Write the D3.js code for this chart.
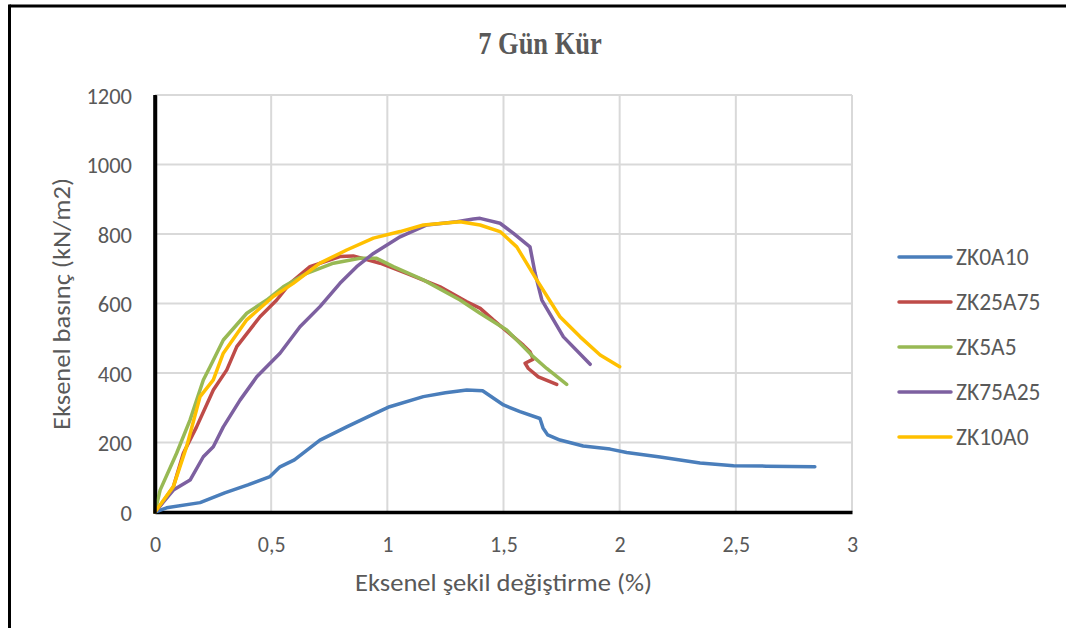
<!DOCTYPE html>
<html>
<head>
<meta charset="utf-8">
<script src="https://cdn.jsdelivr.net/npm/d3@7"></script>
<style>
html,body{margin:0;padding:0;background:#fff;}
svg{display:block;}
</style>
</head>
<body>
<svg id="chart" width="1066" height="628"></svg>
<script>
const seriesNames = ["ZK0A10","ZK25A75","ZK5A5","ZK75A25","ZK10A0"];
const seriesColors = ["#4a7ebb","#be4b48","#98b954","#7d60a0","#ffc000"];

const zk0a10X = [0,0.05,0.194,0.3,0.4,0.495,0.538,0.6,0.71,0.825,0.92,1.01,1.155,1.25,1.342,1.41,1.5,1.571,1.657,1.67,1.69,1.743,1.843,1.959,2.03,2.174,2.346,2.49,2.63,2.84];
const zk0a10Y = [0,12,27,55,78,102,130,150,207,245,275,303,332,343,351,349,308,289,269,242,222,207,190,181,171,158,141,133,132,130];

const zk25a75X = [0,0.03,0.079,0.122,0.179,0.251,0.309,0.352,0.452,0.524,0.581,0.667,0.796,0.853,0.969,1.083,1.227,1.342,1.40,1.456,1.543,1.585,1.614,1.628,1.593,1.607,1.65,1.729];
const zk25a75Y = [0,25,73,169,245,351,409,476,562,610,658,706,735,737,716,687,648,605,586,553,504,480,461,440,428,413,389,367];

const zk5a5X = [0,0.022,0.093,0.151,0.208,0.237,0.294,0.395,0.481,0.552,0.653,0.768,0.882,0.954,1.026,1.155,1.313,1.399,1.514,1.585,1.628,1.686,1.772];
const zk5a5Y = [0,63,169,265,380,418,495,572,610,648,687,716,730,730,706,668,610,572,524,476,447,413,367];

const zk75a25X = [0,0.079,0.151,0.208,0.251,0.294,0.366,0.438,0.538,0.624,0.71,0.796,0.868,0.94,1.055,1.17,1.299,1.37,1.399,1.485,1.543,1.614,1.636,1.665,1.758,1.873];
const zk75a25Y = [0,63,92,159,188,245,322,389,457,533,591,658,706,744,792,826,835,843,845,831,802,763,687,610,504,425];

const zk10a0X = [0,0.079,0.136,0.194,0.251,0.294,0.395,0.509,0.595,0.71,0.825,0.94,1.055,1.155,1.313,1.399,1.485,1.557,1.643,1.743,1.83,1.916,2.0];
const zk10a0Y = [0,73,188,332,380,457,553,620,658,716,754,788,807,826,835,826,807,763,668,562,504,452,418];

const xTicks = [0,0.5,1,1.5,2,2.5,3];
const yTicks = [0,200,400,600,800,1000,1200];
const titleText = "7 Gün Kür";
const xTitle = "Eksenel şekil değiştirme (%)";
const yTitle = "Eksenel basınç (kN/m2)";

const seriesX = [zk0a10X, zk25a75X, zk5a5X, zk75a25X, zk10a0X];
const seriesY = [zk0a10Y, zk25a75Y, zk5a5Y, zk75a25Y, zk10a0Y];

const svg = d3.select("#chart");
const pL = 155, pR = 852, pT = 95, pB = 512;
const x = d3.scaleLinear().domain([0,3]).range([pL,pR]);
const y = d3.scaleLinear().domain([0,1200]).range([pB,pT]);
const fontSans = "Carlito, Calibri, Lato, 'Open Sans', sans-serif";
const textCol = "#595959";

// outer border (top & left)
svg.append("line").attr("x1",9.5).attr("x2",1066).attr("y1",6).attr("y2",6).attr("stroke","#000").attr("stroke-width",3);
svg.append("line").attr("x1",9.5).attr("x2",9.5).attr("y1",4.5).attr("y2",628).attr("stroke","#000").attr("stroke-width",3);

// gridlines
svg.append("g").selectAll("line").data(xTicks.filter(d=>d>0)).join("line")
  .attr("x1",d=>x(d)).attr("x2",d=>x(d)).attr("y1",pT).attr("y2",pB)
  .attr("stroke","#d9d9d9").attr("stroke-width",2);
svg.append("g").selectAll("line").data(yTicks.filter(d=>d>0)).join("line")
  .attr("x1",pL).attr("x2",pR).attr("y1",d=>y(d)).attr("y2",d=>y(d))
  .attr("stroke","#d9d9d9").attr("stroke-width",2);

// axes
const xAxis = d3.axisBottom(x).tickValues(xTicks).tickSize(0)
  .tickFormat(d=>String(d).replace(".",","));
const gx = svg.append("g").attr("transform",`translate(0,${pB})`).call(xAxis);
gx.select(".domain").attr("stroke","#000").attr("stroke-width",3.5);
gx.selectAll("text").attr("font-family",fontSans).attr("font-size",22).attr("fill",textCol)
  .attr("dy",null).attr("y",40);

const yAxis = d3.axisLeft(y).tickValues(yTicks).tickSize(0).tickFormat(d=>String(d));
const gy = svg.append("g").attr("transform",`translate(${pL},0)`).call(yAxis);
gy.select(".domain").attr("stroke","#000").attr("stroke-width",3.5);
gy.selectAll("text").attr("font-family",fontSans).attr("font-size",22.5).attr("fill",textCol)
  .attr("dy",null).attr("x",-23).attr("y",8);

// series
const line = d3.line().x(d=>x(d[0])).y(d=>y(d[1]));
seriesNames.forEach((name,i)=>{
  const pts = seriesX[i].map((v,j)=>[v, seriesY[i][j]]);
  svg.append("path").datum(pts).attr("d",line).attr("fill","none")
    .attr("stroke",seriesColors[i]).attr("stroke-width",3.5)
    .attr("stroke-linejoin","round").attr("stroke-linecap","round");
});

svg.append("line").attr("x1",pL).attr("x2",pL).attr("y1",pT).attr("y2",pB+1.75).attr("stroke","#000").attr("stroke-width",3.5);

// title
svg.append("text").attr("transform","translate(540,53.5) scale(1,1.2)").attr("text-anchor","middle")
  .attr("font-family","'Liberation Serif', 'Times New Roman', serif").attr("font-weight","bold")
  .attr("font-size",26.5).attr("fill",textCol).text(titleText);

// axis titles
svg.append("text").attr("x",(355+652)/2).attr("y",591).attr("text-anchor","middle")
  .attr("font-family",fontSans).attr("font-size",24).attr("fill",textCol)
  .attr("textLength",297).attr("lengthAdjust","spacingAndGlyphs").text(xTitle);
svg.append("text").attr("transform",`translate(70,304) rotate(-90)`).attr("text-anchor","middle")
  .attr("font-family",fontSans).attr("font-size",24).attr("fill",textCol)
  .attr("textLength",252).attr("lengthAdjust","spacingAndGlyphs").text(yTitle);

// legend
const lg = svg.append("g");
seriesNames.forEach((name,i)=>{
  const yy = 257 + i*45;
  lg.append("line").attr("x1",899).attr("x2",951).attr("y1",yy).attr("y2",yy)
    .attr("stroke",seriesColors[i]).attr("stroke-width",3.5).attr("stroke-linecap","round");
  lg.append("text").attr("x",956).attr("y",yy+8).attr("font-family",fontSans)
    .attr("font-size",23.5).attr("fill",textCol).text(name);
});
</script>
</body>
</html>
